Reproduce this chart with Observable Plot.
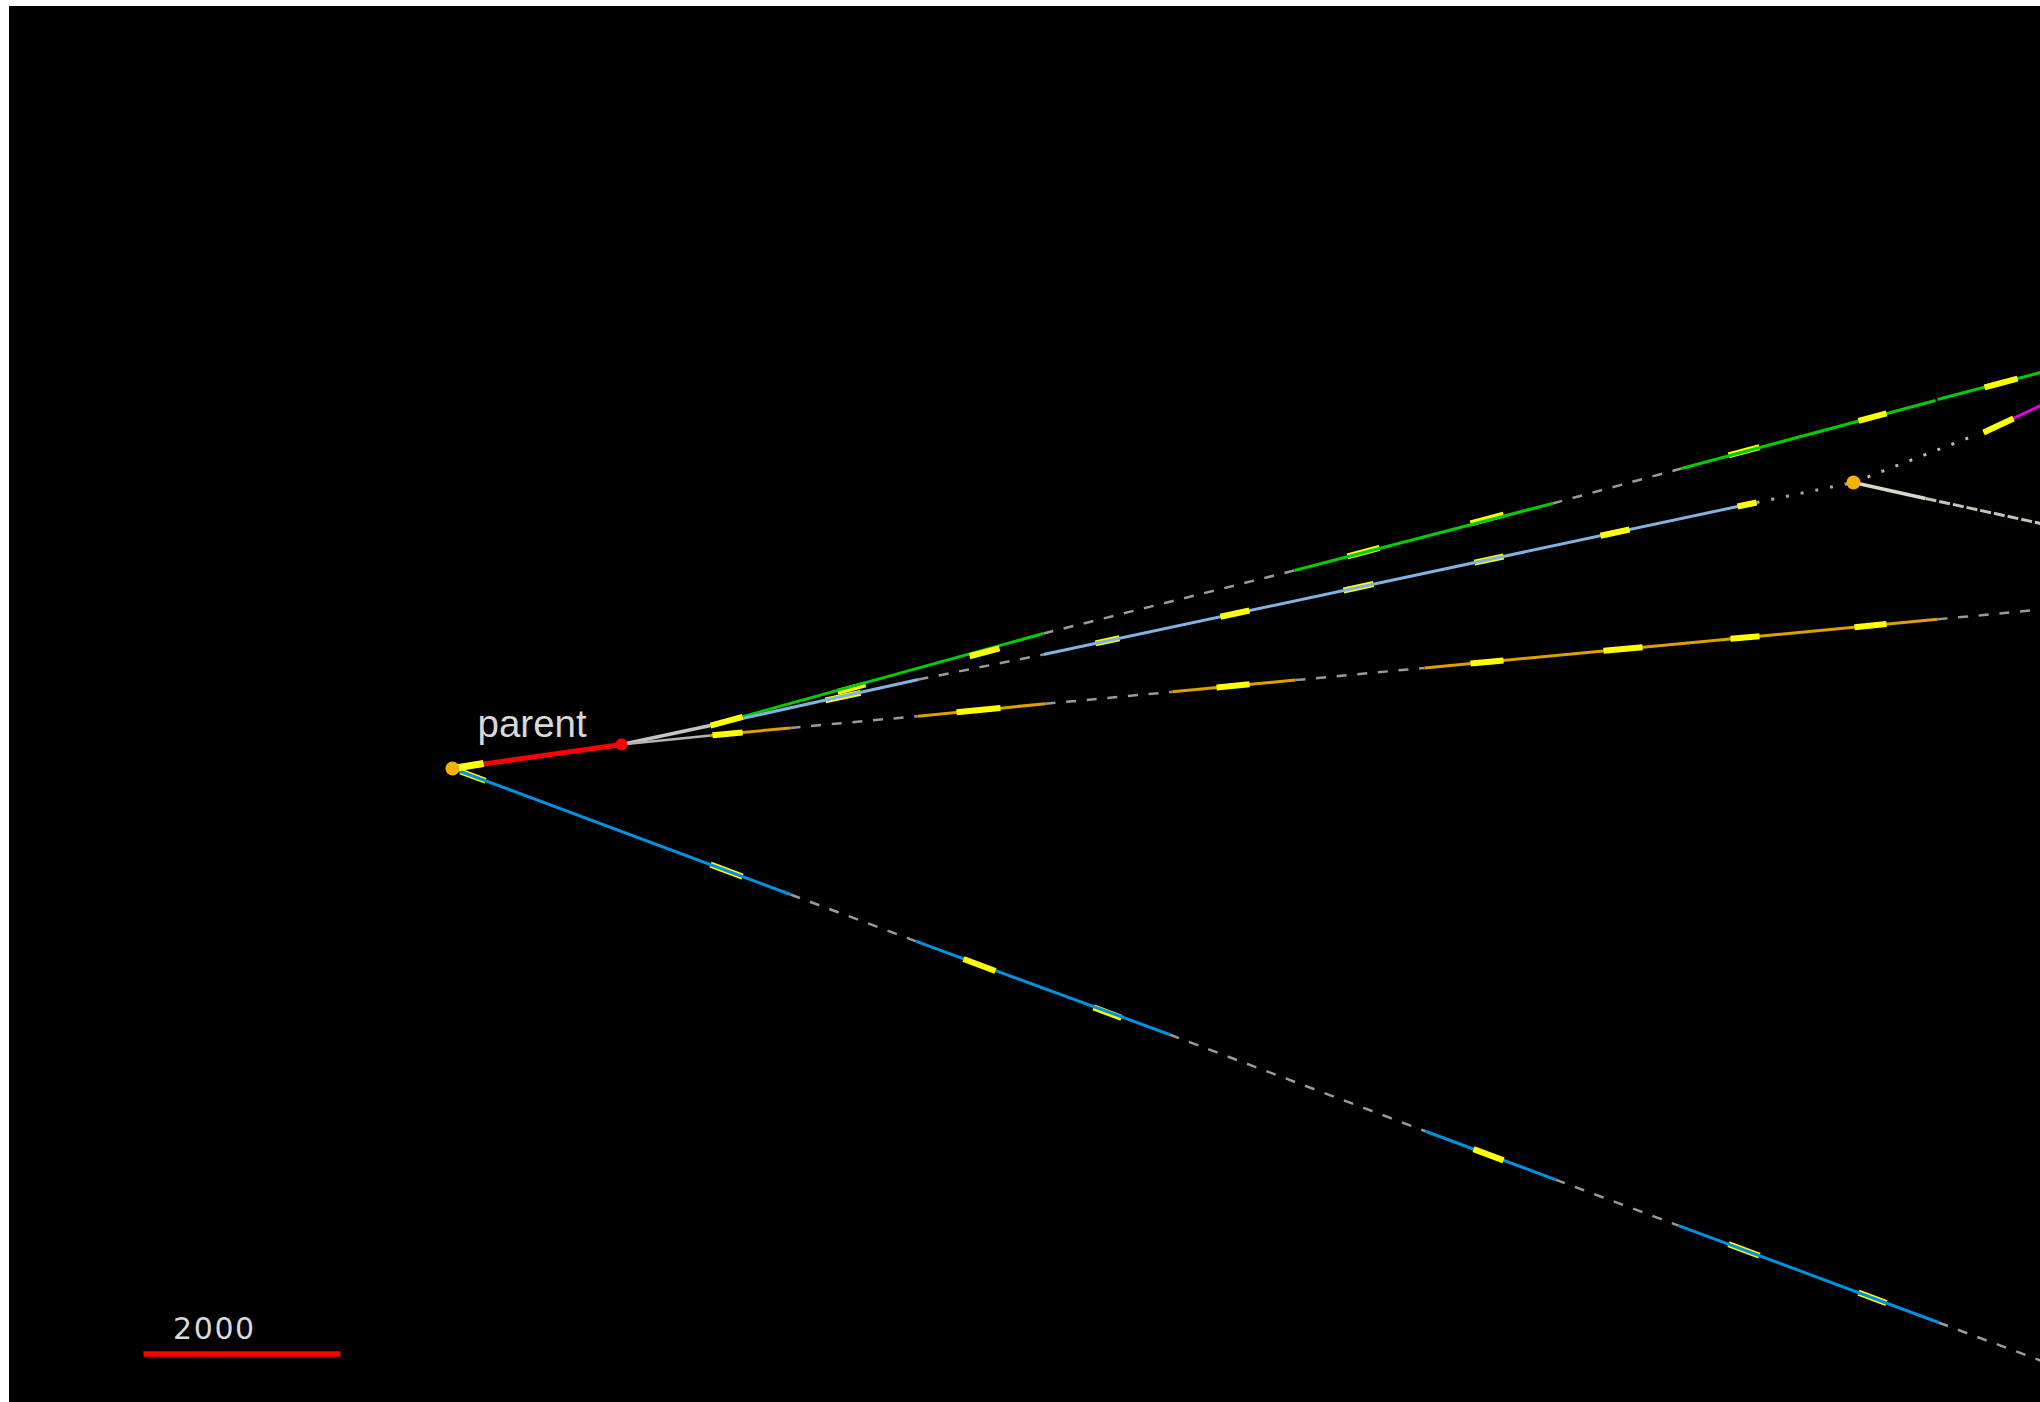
<!DOCTYPE html>
<html>
<head>
<meta charset="utf-8">
<script src="https://cdn.jsdelivr.net/npm/d3@7"></script>
<script src="https://cdn.jsdelivr.net/npm/@observablehq/plot@0.6"></script>
<style>
html,body{margin:0;padding:0;background:#fff;overflow:hidden}
#chart{position:absolute;left:9px;top:6px}
svg{display:block}
.scale-label text{letter-spacing:1.6px}
</style>
</head>
<body>
<div id="chart"></div>
<script>
// Segments as [x1, y1, x2, y2], in the units of the 2000 scale bar, measured from the root node.
const parentStem = [[0,0,1715,244]];
const scaleBar = [[-3136,-5943,-1137,-5943]];
const sharedGreyUpper = [[1715,244,2619,436]];
const sharedGreyLower = [[1715,244,2619,335]];

const greenSolid = [[2619,436,5999,1370],[8546,2010,11165,2690],[12474,3045,15052,3735],[15073,3745,16118,4019]];
const greenGaps = [[5999,1370,8546,2010],[11165,2690,12474,3045]];

const paleBlueSolid = [[2619,436,4730,903],[5999,1157,13236,2700]];
const paleBlueGaps = [[4730,903,5999,1157]];
const paleBlueDots = [[13236,2700,14220,2903]];

const orangeSolid = [[2619,335,3431,412],[4720,531,6019,657],[7308,778,8556,897],[9866,1021,15073,1514]];
const orangeGaps = [[3431,412,4720,531],[6019,657,7308,778],[8556,897,9866,1021],[15073,1514,16118,1614]];

const blueSolid = [[0,0,3431,-1279],[4700,-1752,7278,-2700],[9876,-3682,11195,-4173],[12444,-4639,15083,-5623]];
const blueGaps = [[3431,-1279,4700,-1752],[7278,-2700,9876,-3682],[11195,-4173,12444,-4639],[15083,-5623,16118,-6009]];

const magentaSolid = [[15540,3410,16118,3684]];
const upperDots = [[14220,2903,15398,3360]];
const whiteSolid = [[14220,2903,14951,2741]];
const whiteDashed = [[14951,2741,16118,2487]];

// Yellow stretches drawn beneath the branch colour
const yellowUnder = [
  [3786,692,4141,767],[3908,778,4192,854],[6526,1270,6770,1322],[9044,1807,9348,1872],
  [10373,2090,10668,2152],[9084,2153,9409,2239],[10333,2487,10668,2577],[12951,3179,13266,3262],
  [81,-30,335,-125],[2619,-976,2944,-1098],[6506,-2425,6790,-2531],[12951,-4828,13266,-4946],[14271,-5320,14555,-5426]
];
// Yellow stretches drawn over it
const yellowOver = [
  [2619,436,2944,523],[2639,337,2944,365],[5248,1139,5552,1220],
  [7795,1540,8089,1604],[11652,2362,11947,2426],[13043,2659,13236,2700],
  [14271,3529,14555,3604],[15550,3868,15885,3957],[15540,3410,15844,3552],
  [5116,571,5562,614],[7755,822,8090,855],[10333,1066,10668,1097],[11683,1194,12079,1231],
  [12972,1316,13266,1343],[14230,1433,14555,1466],
  [5187,-1934,5511,-2055],[10363,-3863,10668,-3977]
];
const yellowRoot = [[0,0,315,51]];

const rootNodes = [[0,0],[14220,2903]];
const redNodes = [[1715,244]];
const labels = [["parent",254,315]];
const scaleLabels = [["2000",-2416,-5791]];

const seg = (data, stroke, strokeWidth, extra = {}) => Plot.link(data, {
  x1: d => d[0], y1: d => d[1], x2: d => d[2], y2: d => d[3],
  stroke, strokeWidth, ...extra
});
const dash = {strokeDasharray: "10,10.7"};
const dots = {strokeDasharray: "3,12"};
const grey = "#9a9a9a", yellow = "#ffff00";

const plot = Plot.plot({
  width: 2031, height: 1396,
  margin: 0,
  x: {domain: [-4496, 16118], axis: null},
  y: {domain: [-6435, 7734], axis: null},
  style: {background: "#000"},
  marks: [
    seg(sharedGreyUpper, "#c4c4c4", 3.5),
    seg(sharedGreyLower, "#b4b4b4", 2.5),
    seg(greenGaps, grey, 2.5, dash),
    seg(paleBlueGaps, grey, 2.5, dash),
    seg(orangeGaps, grey, 2.5, dash),
    seg(blueGaps, grey, 2.5, dash),
    seg(yellowUnder, yellow, 6),
    seg(greenSolid, "#00cc00", 3),
    seg(paleBlueSolid, "#82b2e0", 3),
    seg(orangeSolid, "#dca000", 3),
    seg(blueSolid, "#0090e0", 3),
    seg(magentaSolid, "#e000e0", 3),
    seg(paleBlueDots, "#aaa69c", 3, dots),
    seg(upperDots, "#bdb8ae", 3, dots),
    seg(whiteSolid, "#dcd7cc", 3.5),
    seg(whiteDashed, "#c8c3b8", 3, {strokeDasharray: "11,3"}),
    seg(yellowOver, yellow, 6),
    seg(parentStem, "#ff0000", 5),
    seg(yellowRoot, yellow, 7),
    seg(scaleBar, "#ff0000", 5.5),
    Plot.dot(rootNodes, {x: d => d[0], y: d => d[1], r: 7, fill: "#f2b200"}),
    Plot.dot(redNodes, {x: d => d[0], y: d => d[1], r: 6, fill: "#ff0000"}),
    Plot.text(labels, {x: d => d[1], y: d => d[2], text: d => d[0], textAnchor: "start", lineAnchor: "bottom",
      fill: "#d8d8d8", fontFamily: "Liberation Sans", fontSize: 38.5}),
    Plot.text(scaleLabels, {x: d => d[1], y: d => d[2], text: d => d[0], textAnchor: "middle", lineAnchor: "bottom",
      fill: "#d8d8d8", fontFamily: "DejaVu Sans", fontSize: 30, className: "scale-label"})
  ]
});
document.getElementById("chart").append(plot);
</script>
</body>
</html>
